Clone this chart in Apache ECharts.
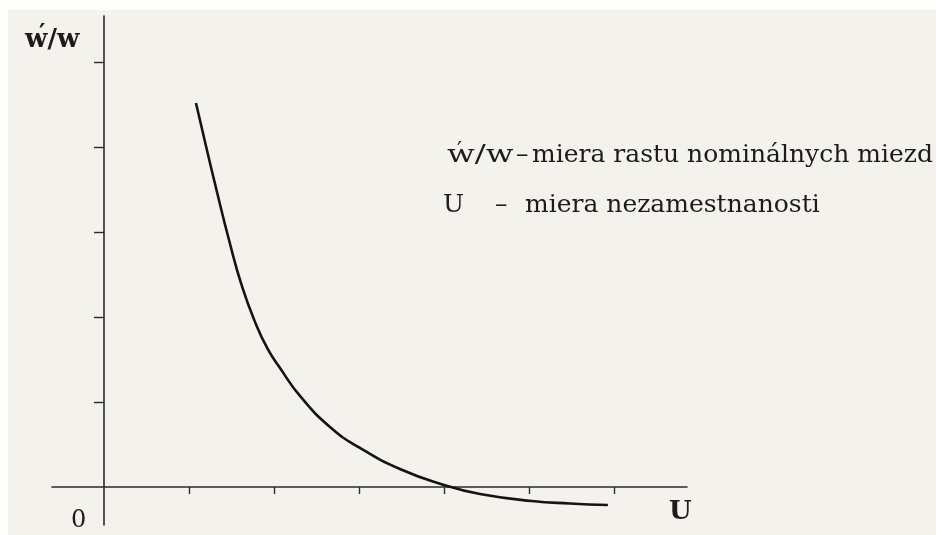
<!DOCTYPE html>
<html>
<head>
<meta charset="utf-8">
<script src="https://cdn.jsdelivr.net/npm/echarts@6/dist/echarts.min.js"></script>
<style>
  html, body { margin: 0; padding: 0; background: #fdfdfb; }
  #chart { width: 936px; height: 535px; }
</style>
</head>
<body>
<div id="chart"></div>
<script>
// Phillips curve: unemployment rate U vs. nominal wage growth w'/w
const unemployment = [1.082, 1.200, 1.318, 1.471, 1.624, 1.788, 1.929, 2.071, 2.306, 2.659, 3.012, 3.482, 4.000, 4.424, 5.035, 5.482, 5.929];
const wageGrowth   = [4.518, 4.012, 3.518, 2.906, 2.360, 1.915, 1.618, 1.400, 1.071, 0.706, 0.459, 0.212, 0.024, -0.082, -0.165, -0.194, -0.212];
const xTickValues = [1, 2, 3, 4, 5, 6];
const yTickValues = [1, 2, 3, 4, 5];

const SERIF = '"DejaVu Serif", "Liberation Serif", serif';
const INK = '#1c1c1c';

const points = unemployment.map((u, i) => [u, wageGrowth[i]]);

function label(text, x, y, size, weight, scaleX) {
  return {
    type: 'text', x: x, y: y, z: 10, scaleX: scaleX || 1,
    style: {
      text: text, fill: INK,
      font: (weight || 'normal') + ' ' + size + 'px ' + SERIF,
      verticalAlign: 'middle', align: 'left'
    }
  };
}

const chart = echarts.init(document.getElementById('chart'), null, { renderer: 'canvas' });

chart.setOption({
  animation: false,
  backgroundColor: '#fdfdfb',
  grid: { left: 52, right: 249, top: 16, bottom: 10, containLabel: false, outerBoundsMode: 'none' },
  xAxis: {
    type: 'value', min: -0.612, max: 6.86,
    axisLine: { onZero: true, lineStyle: { color: '#2a2a2a', width: 1.6 } },
    axisTick: { show: true, customValues: xTickValues, length: 7, lineStyle: { color: '#2a2a2a', width: 1.4 } },
    axisLabel: { show: false },
    splitLine: { show: false }
  },
  yAxis: {
    type: 'value', min: -0.447, max: 5.541,
    axisLine: { onZero: true, lineStyle: { color: '#2a2a2a', width: 1.6 } },
    axisTick: { show: true, customValues: yTickValues, length: 10, lineStyle: { color: '#2a2a2a', width: 1.4 } },
    axisLabel: { show: false },
    splitLine: { show: false }
  },
  series: [{
    type: 'line',
    data: points,
    smooth: 0.5,
    symbol: 'none',
    lineStyle: { color: '#141414', width: 2.6 },
    z: 5
  }],
  graphic: [
    { type: 'rect', z: -10, shape: { x: 8, y: 10, width: 928, height: 525 }, style: { fill: '#f4f2ec' } },
    // axis captions
    label('w/w', 25, 40, 26, 'bold'),
    label('′', 39, 35, 24, 'bold'),
    label('0', 71, 521, 24, 'normal'),
    label('U', 669, 512, 26, 'bold'),
    // key
    label('w/w', 447, 155, 25, 'normal', 1.3),
    label('′', 457, 151, 22, 'normal'),
    label('–', 516, 155, 25, 'normal'),
    label('miera rastu nominálnych miezd', 532, 155, 25, 'normal'),
    label('U', 443, 205, 25, 'normal'),
    label('–', 495, 205, 25, 'normal'),
    label('miera nezamestnanosti', 525, 205, 25, 'normal')
  ]
});
</script>
</body>
</html>
